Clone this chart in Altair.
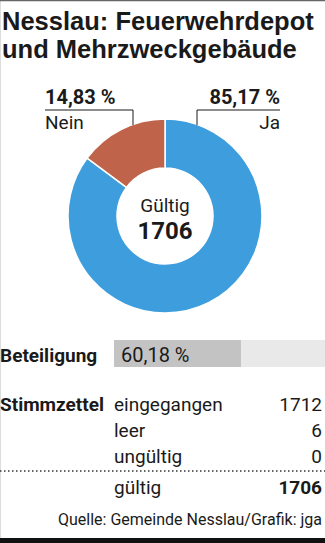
import altair as alt
import pandas as pd

# ---- data ----
title_lines = ["Nesslau: Feuerwehrdepot", "und Mehrzweckgebäude"]
categories = ["Ja", "Nein"]
shares = [85.17, 14.83]
colors = ["#3d9ddd", "#c0634b"]
center_label = "Gültig"
valid_total = 1706
turnout_label = "Beteiligung"
turnout = 60.18
ballot_header = "Stimmzettel"
ballot_labels = ["eingegangen", "leer", "ungültig", "gültig"]
ballot_values = [1712, 6, 0, 1706]
source = "Quelle: Gemeinde Nesslau/Grafik: jga"

W, H = 325, 543
TXT = "#1a1a1a"
BODY = "Roboto"
TITLE_FONT = "Liberation Sans"


def fmt_pct(v):
    return f"{v:.2f} %".replace(".", ",")


one = pd.DataFrame({"k": [0]})


def text_layer(txt, x, y, size=19, bold=False, align="left", font=BODY, color=TXT):
    return (
        alt.Chart(pd.DataFrame({"t": [txt]}))
        .mark_text(
            align=align,
            baseline="alphabetic",
            font=font,
            fontSize=size,
            fontWeight="bold" if bold else "normal",
            color=color,
        )
        .encode(x=alt.value(x), y=alt.value(y), text="t:N")
    )


def rule_layer(x, x2, y, y2, color=TXT, width=1.0, dash=None):
    kw = dict(color=color, strokeWidth=width)
    if dash:
        kw["strokeDash"] = dash
    return alt.Chart(one).mark_rule(**kw).encode(
        x=alt.value(x), x2=alt.value(x2), y=alt.value(y), y2=alt.value(y2)
    )


layers = []

# top border and bottom bar
layers.append(rule_layer(0, W, 0.5, 0.5, color="#666666", width=1.5))
layers.append(
    alt.Chart(one)
    .mark_rect(color="#111111")
    .encode(x=alt.value(0), x2=alt.value(W), y=alt.value(538), y2=alt.value(H))
)

# title
layers.append(text_layer(title_lines[0], 2, 30, size=25.5, bold=True, font=TITLE_FONT))
layers.append(text_layer(title_lines[1], 2, 57.5, size=25.5, bold=True, font=TITLE_FONT))

# donut
donut_df = pd.DataFrame({"category": categories, "value": shares, "ord": [0, 1]})
layers.append(
    alt.Chart(donut_df)
    .mark_arc(innerRadius=48, outerRadius=97, stroke="white", strokeWidth=1.5)
    .encode(
        theta=alt.Theta("value:Q", stack=True),
        color=alt.Color(
            "category:N", scale=alt.Scale(domain=categories, range=colors), legend=None
        ),
        order=alt.Order("ord:Q"),
        x=alt.value(165),
        y=alt.value(216),
    )
)

# leader lines
layers.append(rule_layer(45, 133, 110, 110))
layers.append(rule_layer(133, 133, 110, 125))
layers.append(rule_layer(197, 280, 110, 110))
layers.append(rule_layer(197, 197, 110, 125))

# labels
layers.append(text_layer(fmt_pct(shares[1]), 45, 104, size=20, bold=True))
layers.append(text_layer(categories[1], 45, 129, size=19))
layers.append(text_layer(fmt_pct(shares[0]), 280, 104, size=20, bold=True, align="right"))
layers.append(text_layer(categories[0], 280, 129, size=19, align="right"))

# center
layers.append(text_layer(center_label, 165, 212, size=19, align="center"))
layers.append(text_layer(str(valid_total), 165, 239, size=24, bold=True, align="center"))

# turnout bar
bar_scale = alt.Scale(domain=[0, 100], range=[114, 325])
bg_df = pd.DataFrame({"start": [0], "end": [100]})
val_df = pd.DataFrame({"start": [0], "end": [turnout]})
layers.append(
    alt.Chart(bg_df)
    .mark_rect(color="#e9e9e9")
    .encode(
        x=alt.X("start:Q", scale=bar_scale, axis=None),
        x2="end:Q",
        y=alt.value(340),
        y2=alt.value(367),
    )
)
layers.append(
    alt.Chart(val_df)
    .mark_rect(color="#c3c3c3")
    .encode(
        x=alt.X("start:Q", scale=bar_scale, axis=None),
        x2="end:Q",
        y=alt.value(340),
        y2=alt.value(367),
    )
)
layers.append(text_layer(turnout_label, 0, 362, size=19, bold=True))
layers.append(text_layer(fmt_pct(turnout), 121, 362, size=20))

# ballots table
row_y = [411, 437, 463, 494]
layers.append(text_layer(ballot_header, 0, row_y[0], size=19, bold=True))
for i, (lab, val) in enumerate(zip(ballot_labels, ballot_values)):
    last = i == len(ballot_labels) - 1
    layers.append(text_layer(lab, 114, row_y[i], size=19))
    layers.append(text_layer(str(val), 322, row_y[i], size=19, bold=last, align="right"))
layers.append(rule_layer(0, W, 471, 471, color="#333333", width=1.5, dash=[1.5, 2.5]))

# source
layers.append(text_layer(source, 322, 525, size=16, align="right"))

chart = (
    alt.layer(*layers)
    .properties(width=W, height=H, padding=0, autosize=alt.AutoSizeParams(type="none"))
    .configure_view(stroke=None)
    .configure(background="white")
)

chart.save("out.html", embed_options={"renderer": "svg", "actions": False})
